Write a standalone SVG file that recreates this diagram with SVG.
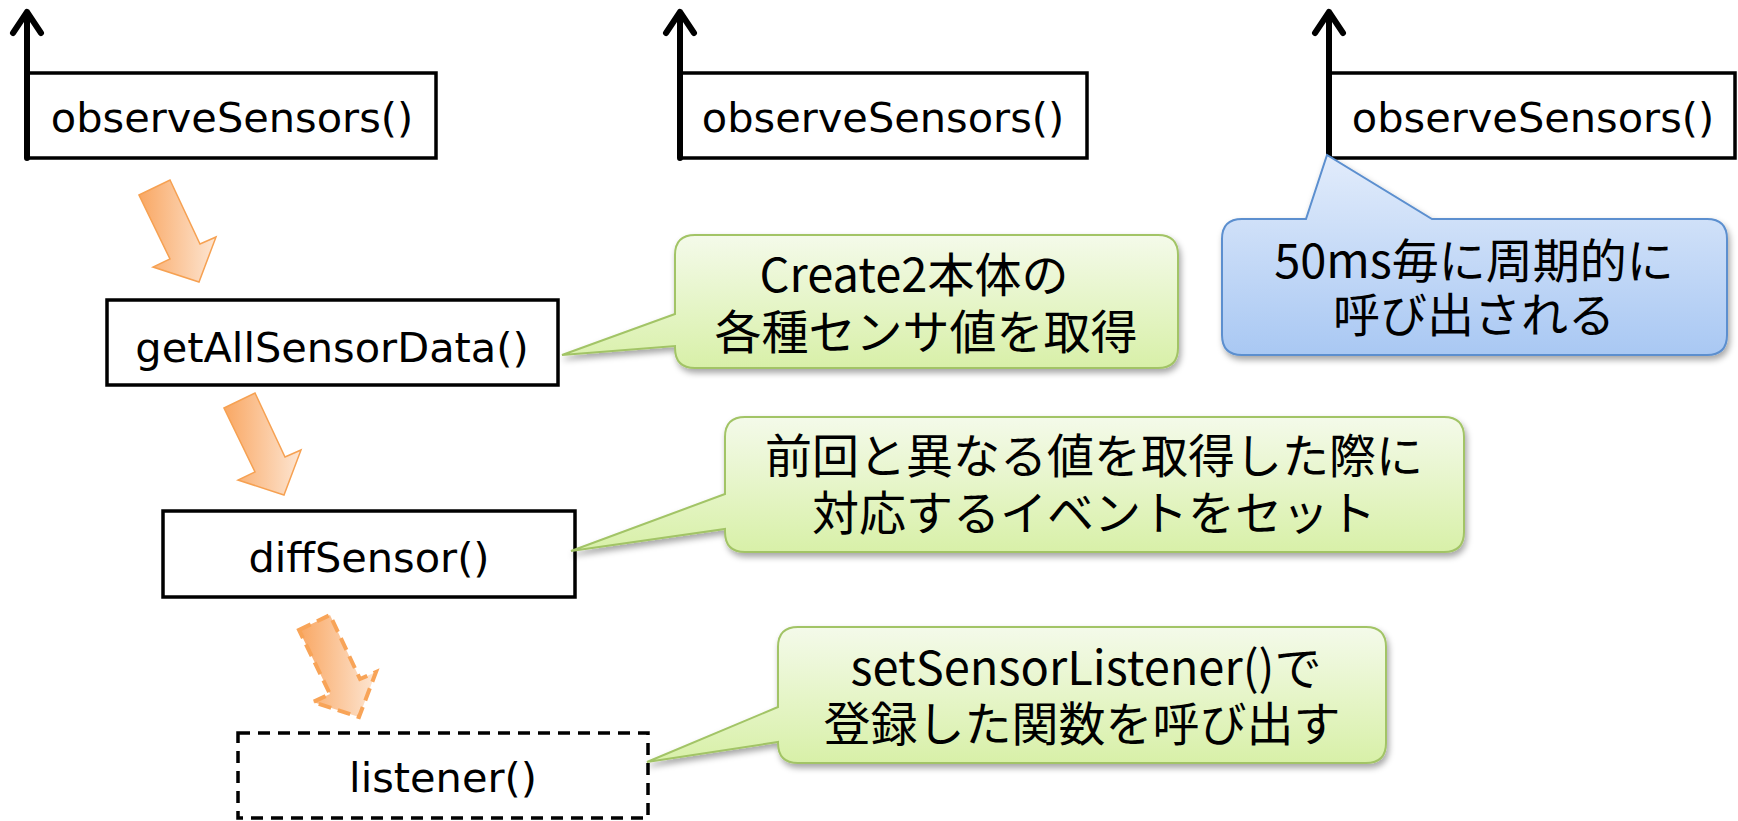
<svg xmlns="http://www.w3.org/2000/svg" width="1738" height="821" viewBox="0 0 1738 821">
<style>
.box{fill:#ffffff;stroke:#000000;stroke-width:3.5}
.dash{stroke-dasharray:12 8}
.lbl{font-family:"DejaVu Sans","Noto Sans",sans-serif;font-size:41.5px;fill:#000;text-anchor:middle}
.up{fill:none;stroke:#000;stroke-width:6;stroke-linecap:round;stroke-linejoin:round}
.oarr{fill:url(#og);stroke:#f6a152;stroke-width:1.5;stroke-linejoin:miter}
.oarrd{fill:url(#og);stroke:#f8a458;stroke-width:4;stroke-dasharray:13 7}
.green{fill:url(#gg);stroke:#a2c466;stroke-width:2;filter:url(#sh)}
.blue{fill:url(#bg);stroke:#5b8fcf;stroke-width:2;filter:url(#sh)}
.ct{font-family:"Noto Sans CJK JP","Noto Sans",sans-serif;font-size:47px;fill:#000;text-anchor:middle}
</style>
<defs>
<linearGradient id="og" x1="0" y1="0" x2="1" y2="0">
<stop offset="0" stop-color="#f9a763"/>
<stop offset="1" stop-color="#fde6d3"/>
</linearGradient>
<linearGradient id="gg" x1="0" y1="0" x2="0" y2="1">
<stop offset="0" stop-color="#f4faea"/>
<stop offset="1" stop-color="#d8f0a8"/>
</linearGradient>
<linearGradient id="bg" x1="0" y1="0" x2="0" y2="1">
<stop offset="0" stop-color="#e2ecfb"/>
<stop offset="1" stop-color="#a9c8f3"/>
</linearGradient>
<filter id="sh" x="-5%" y="-10%" width="115%" height="130%">
<feDropShadow dx="2" dy="4" stdDeviation="3" flood-color="#000" flood-opacity="0.35"/>
</filter>
<path id="oa" d="M139,195 L170,180 L200,244 L216,237 L199,282 L153,267 L170,259 Z"/>
</defs>

<g id="obs1">
<rect class="box" x="27" y="73" width="409" height="85"/>
<text class="lbl" x="232" y="132">observeSensors()</text>
</g>
<g id="obs2">
<rect class="box" x="680" y="73" width="407" height="85"/>
<text class="lbl" x="883" y="132">observeSensors()</text>
</g>
<g id="obs3">
<rect class="box" x="1329" y="73" width="406" height="85"/>
<text class="lbl" x="1533" y="132">observeSensors()</text>
</g>
<g id="getAllSensorData">
<rect class="box" x="107" y="300" width="451" height="85"/>
<text class="lbl" x="332" y="362">getAllSensorData()</text>
</g>
<g id="diffSensor">
<rect class="box" x="163" y="511" width="412" height="86"/>
<text class="lbl" x="369" y="572">diffSensor()</text>
</g>
<g id="listener">
<rect class="box dash" x="238" y="733" width="410" height="85"/>
<text class="lbl" x="443" y="792">listener()</text>
</g>

<g id="connectors">
<path class="up" d="M27,158 V12 M13,33 L27,12 L41,33"/>
<path class="up" d="M680,158 V12 M666,33 L680,12 L694,33"/>
<path class="up" d="M1329,158 V12 M1315,33 L1329,12 L1343,33"/>
<use href="#oa" class="oarr"/>
<use href="#oa" class="oarr" transform="translate(85,213)"/>
<use href="#oa" class="oarrd" transform="translate(160,435)"/>
</g>

<g id="note-periodic">
<path class="blue" d="M1242,219 H1306 L1327,155 L1432,219 H1707 Q1727,219 1727,239 V335 Q1727,355 1707,355 H1242 Q1222,355 1222,335 V239 Q1222,219 1242,219 Z"/>
<text class="ct"><tspan x="1474" y="278">50ms毎に周期的に</tspan><tspan x="1474" y="332">呼び出される</tspan></text>
</g>
<g id="note-get">
<path class="green" d="M695,235 H1158 Q1178,235 1178,255 V348 Q1178,368 1158,368 H695 Q675,368 675,348 V346 L562,355 L675,314 V255 Q675,235 695,235 Z"/>
<text class="ct"><tspan x="914" y="292">Create2本体の</tspan><tspan x="926" y="349">各種センサ値を取得</tspan></text>
</g>
<g id="note-diff">
<path class="green" d="M745,417 H1444 Q1464,417 1464,437 V532 Q1464,552 1444,552 H745 Q725,552 725,532 V529 L571,551 L725,494 V437 Q725,417 745,417 Z"/>
<text class="ct"><tspan x="1094" y="473">前回と異なる値を取得した際に</tspan><tspan x="1094" y="530">対応するイベントをセット</tspan></text>
</g>
<g id="note-listener">
<path class="green" d="M798,627 H1366 Q1386,627 1386,647 V743 Q1386,763 1366,763 H798 Q778,763 778,743 V742 L647,762 L778,707 V647 Q778,627 798,627 Z"/>
<text class="ct"><tspan x="1086" y="685">setSensorListener()で</tspan><tspan x="1082" y="741">登録した関数を呼び出す</tspan></text>
</g>
</svg>
